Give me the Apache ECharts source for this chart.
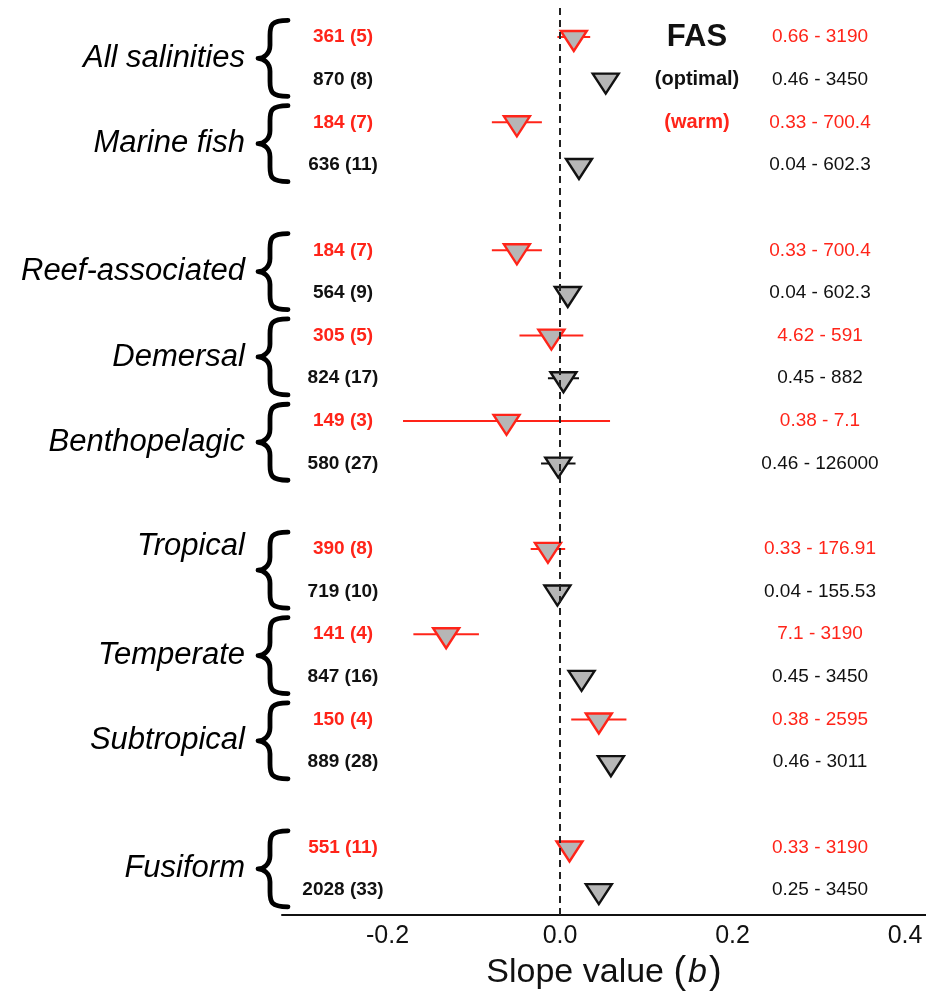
<!DOCTYPE html>
<html>
<head>
<meta charset="utf-8">
<script src="https://cdn.jsdelivr.net/npm/echarts@6/dist/echarts.min.js"></script>
<style>
  html, body { margin: 0; padding: 0; background: #ffffff; }
  #main { width: 926px; height: 997px; }
</style>
</head>
<body>
<div id="main"></div>
<script>
// Row slots from top to bottom; the skipped slots (4, 11, 18) are the blank gaps between blocks
const rowSlots = [0, 1, 2, 3, 5, 6, 7, 8, 9, 10, 12, 13, 14, 15, 16, 17, 19, 20];
// Temperature condition of each row: 'warm' (red) or 'optimal' (black)
const rowCondition = ['warm', 'optimal', 'warm', 'optimal', 'warm', 'optimal', 'warm', 'optimal', 'warm',
  'optimal', 'warm', 'optimal', 'warm', 'optimal', 'warm', 'optimal', 'warm', 'optimal'];
// Observations (species) per row
const countLabels = ['361 (5)', '870 (8)', '184 (7)', '636 (11)', '184 (7)', '564 (9)', '305 (5)', '824 (17)',
  '149 (3)', '580 (27)', '390 (8)', '719 (10)', '141 (4)', '847 (16)', '150 (4)', '889 (28)', '551 (11)', '2028 (33)'];
// Body-mass range per row
const massRanges = ['0.66 - 3190', '0.46 - 3450', '0.33 - 700.4', '0.04 - 602.3', '0.33 - 700.4', '0.04 - 602.3',
  '4.62 - 591', '0.45 - 882', '0.38 - 7.1', '0.46 - 126000', '0.33 - 176.91', '0.04 - 155.53', '7.1 - 3190',
  '0.45 - 3450', '0.38 - 2595', '0.46 - 3011', '0.33 - 3190', '0.25 - 3450'];
// Slope estimates (b) and their confidence limits
const slopeValues = [0.016, 0.053, -0.050, 0.022, -0.050, 0.009, -0.010, 0.004, -0.062, -0.002,
  -0.014, -0.003, -0.132, 0.025, 0.045, 0.059, 0.011, 0.045];
const ciLower = [-0.003, 0.048, -0.079, 0.017, -0.079, 0.003, -0.047, -0.014, -0.182, -0.022,
  -0.034, -0.009, -0.170, 0.019, 0.013, 0.050, 0.003, 0.039];
const ciUpper = [0.035, 0.058, -0.021, 0.027, -0.021, 0.015, 0.027, 0.022, 0.058, 0.018,
  0.006, 0.003, -0.094, 0.031, 0.077, 0.068, 0.019, 0.051];
// Groups, each bracketing two consecutive rows
const groupNames = ['All salinities', 'Marine fish', 'Reef-associated', 'Demersal', 'Benthopelagic',
  'Tropical', 'Temperate', 'Subtropical', 'Fusiform'];
const groupFirstSlot = [0, 2, 5, 7, 9, 12, 14, 16, 19];
// Header legend beside the first rows
const headerLines = ['FAS', '(optimal)', '(warm)'];
const headerSlots = [0, 1, 2];
// Axis tick values
const xTickValues = [-0.2, 0, 0.2, 0.4];

const RED = '#ff2419';
const BLACK = '#111111';
const FILL = '#b6b6b6';
const FONT = "'Liberation Sans', Arial, Helvetica, sans-serif";
const COUNT_X = 343;       // centre of the count column (px)
const RANGE_X = 820;       // centre of the mass-range column (px)
const HEADER_X = 697;      // centre of the header block (px)
const GROUP_TEXT_RIGHT = 245;
const BRACE_TIP = 258, BRACE_STEM = 270, BRACE_END = 288, BRACE_HALF = 38;
const labelNudge = { 'Tropical': -24 };
const TRI_W = 26, TRI_H = 20;

const colorOf = c => (c === 'warm' ? RED : BLACK);

function markData(condition) {
  const out = [];
  rowSlots.forEach((slot, i) => {
    if (rowCondition[i] === condition) {
      out.push([slopeValues[i], ciLower[i], ciUpper[i], slot]);
    }
  });
  return out;
}

function renderMark(color) {
  return function (params, api) {
    const slot = api.value(3);
    const c = api.coord([api.value(0), slot]);
    const l = api.coord([api.value(1), slot]);
    const r = api.coord([api.value(2), slot]);
    return {
      type: 'group',
      children: [
        { type: 'line', shape: { x1: l[0], y1: c[1], x2: r[0], y2: c[1] },
          style: { stroke: color, lineWidth: 2 } },
        { type: 'polygon',
          shape: { points: [
            [c[0] - TRI_W / 2, c[1] - TRI_H * 0.3],
            [c[0] + TRI_W / 2, c[1] - TRI_H * 0.3],
            [c[0], c[1] + TRI_H * 0.7]
          ] },
          style: { fill: FILL, stroke: color, lineWidth: 2.4, lineJoin: 'miter' } }
      ]
    };
  };
}

function renderRowText(params, api) {
  const i = params.dataIndex;
  const y = api.coord([0, rowSlots[i]])[1];
  const col = colorOf(rowCondition[i]);
  return {
    type: 'group',
    children: [
      { type: 'text', x: COUNT_X, y: y,
        style: { text: countLabels[i], fill: col, font: 'bold 19px ' + FONT,
          textAlign: 'center', textVerticalAlign: 'middle' } },
      { type: 'text', x: RANGE_X, y: y,
        style: { text: massRanges[i], fill: col, font: '19px ' + FONT,
          textAlign: 'center', textVerticalAlign: 'middle' } }
    ]
  };
}

function bracePath(yc) {
  const t = yc - BRACE_HALF, b = yc + BRACE_HALF;
  return 'M' + BRACE_END + ' ' + t +
    ' C' + (BRACE_STEM + 1) + ' ' + t + ' ' + BRACE_STEM + ' ' + (t + 5) + ' ' + BRACE_STEM + ' ' + (t + 15) +
    ' L' + BRACE_STEM + ' ' + (yc - 13) +
    ' C' + BRACE_STEM + ' ' + (yc - 4) + ' ' + (BRACE_TIP + 5) + ' ' + yc + ' ' + BRACE_TIP + ' ' + yc +
    ' C' + (BRACE_TIP + 5) + ' ' + yc + ' ' + BRACE_STEM + ' ' + (yc + 4) + ' ' + BRACE_STEM + ' ' + (yc + 13) +
    ' L' + BRACE_STEM + ' ' + (b - 15) +
    ' C' + BRACE_STEM + ' ' + (b - 5) + ' ' + (BRACE_STEM + 1) + ' ' + b + ' ' + BRACE_END + ' ' + b;
}

function renderGroup(params, api) {
  const i = params.dataIndex;
  const y0 = api.coord([0, groupFirstSlot[i]])[1];
  const y1 = api.coord([0, groupFirstSlot[i] + 1])[1];
  const yc = (y0 + y1) / 2;
  const name = groupNames[i];
  return {
    type: 'group',
    children: [
      { type: 'path', shape: { pathData: bracePath(yc) },
        style: { fill: null, stroke: '#000', lineWidth: 4.8, lineCap: 'round', lineJoin: 'round' } },
      { type: 'text', x: GROUP_TEXT_RIGHT, y: yc + (labelNudge[name] || 0),
        style: { text: name, fill: '#000', font: 'italic 31px ' + FONT,
          textAlign: 'right', textVerticalAlign: 'middle' } }
    ]
  };
}

function renderHeader(params, api) {
  const i = params.dataIndex;
  const y = api.coord([0, headerSlots[i]])[1];
  const sizes = [31, 20, 20];
  const colors = [BLACK, BLACK, RED];
  return {
    type: 'text', x: HEADER_X, y: y,
    style: { text: headerLines[i], fill: colors[i], font: 'bold ' + sizes[i] + 'px ' + FONT,
      textAlign: 'center', textVerticalAlign: 'middle' }
  };
}

const chart = echarts.init(document.getElementById('main'), null, { renderer: 'canvas' });

chart.setOption({
  backgroundColor: '#ffffff',
  animation: false,
  grid: { left: 282, right: 0, top: 8, bottom: 80, containLabel: false },
  xAxis: {
    type: 'value',
    position: 'bottom',
    min: -0.3223,
    max: 0.4243,
    axisLine: { show: true, onZero: false, lineStyle: { color: '#111', width: 2 } },
    axisTick: { show: false },
    splitLine: { show: false },
    axisLabel: {
      customValues: xTickValues,
      formatter: v => v.toFixed(1),
      fontSize: 25,
      fontFamily: FONT,
      color: '#111',
      margin: 9
    },
    name: '{t|Slope value }{p|(}{b|b}{p|)}',
    nameLocation: 'middle',
    nameGap: 34,
    nameTextStyle: {
      rich: {
        t: { fontSize: 34, fontFamily: FONT, color: '#111' },
        p: { fontSize: 38, fontFamily: FONT, color: '#111' },
        b: { fontSize: 34, fontFamily: FONT, fontStyle: 'italic', color: '#111', padding: [0, 2, 0, 2] }
      }
    }
  },
  yAxis: {
    type: 'value',
    inverse: true,
    min: -0.68,
    max: 20.585,
    show: false
  },
  series: [
    {
      name: 'optimal',
      type: 'custom',
      renderItem: renderMark(BLACK),
      encode: { x: [0, 1, 2], y: 3 },
      data: markData('optimal'),
      z: 3,
      markLine: {
        silent: true,
        symbol: 'none',
        label: { show: false },
        lineStyle: { type: [7, 5], color: '#222', width: 2 },
        data: [{ xAxis: 0 }]
      }
    },
    {
      name: 'warm',
      type: 'custom',
      renderItem: renderMark(RED),
      encode: { x: [0, 1, 2], y: 3 },
      data: markData('warm'),
      z: 4
    },
    {
      type: 'custom',
      renderItem: renderRowText,
      encode: { x: 0, y: 1 },
      data: rowSlots.map(s => [0, s]),
      z: 5
    },
    {
      type: 'custom',
      renderItem: renderGroup,
      encode: { x: 0, y: 1 },
      data: groupFirstSlot.map(s => [0, s]),
      z: 5
    },
    {
      type: 'custom',
      renderItem: renderHeader,
      encode: { x: 0, y: 1 },
      data: headerSlots.map(s => [0, s]),
      z: 5
    }
  ]
});
</script>
</body>
</html>
